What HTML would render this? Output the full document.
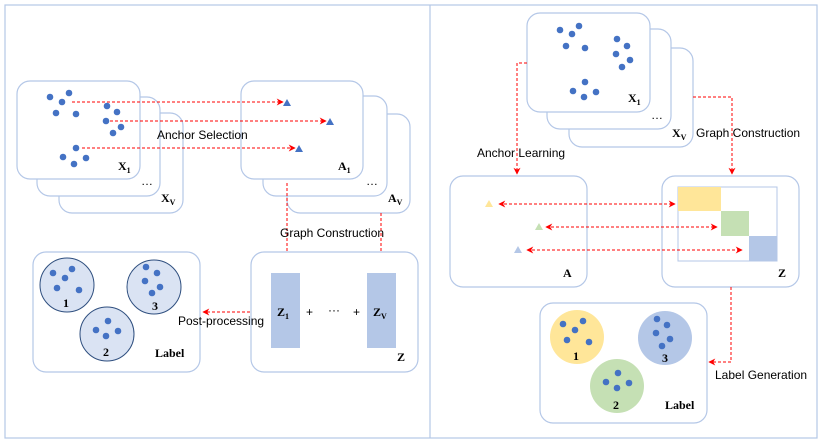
<!DOCTYPE html>
<html><head><meta charset="utf-8"><style>
html,body{margin:0;padding:0;background:#fff;}
svg{display:block;}
.b{fill:#fff;stroke:#b4c7e7;stroke-width:1.2;}
.d{fill:#4472c4;}
.r{stroke:#ff0000;stroke-width:1;stroke-dasharray:3,2;fill:none;}
.t{font-family:"Liberation Sans",sans-serif;font-size:12px;fill:#000;}
.s{font-family:"Liberation Serif",serif;font-weight:bold;font-size:12px;fill:#000;}
.sub{font-size:8px;}
</style></head><body>
<svg width="822" height="444" viewBox="0 0 822 444" xmlns="http://www.w3.org/2000/svg">
<defs>
<marker id="a" viewBox="0 0 10 10" refX="9" refY="5" markerWidth="7" markerHeight="7" orient="auto-start-reverse"><path d="M0,0 L10,5 L0,10 L3,5 z" fill="#ff0000"/></marker>
</defs>
<rect x="5" y="5" width="812" height="433" fill="none" stroke="#b4c7e7" stroke-width="1.2"/>
<line x1="430" y1="5" x2="430" y2="438" stroke="#b4c7e7" stroke-width="1.2"/>

<rect class="b" x="59" y="113" width="124" height="100" rx="13"/>
<rect class="b" x="37" y="97" width="123" height="99" rx="13"/>
<rect class="b" x="17" y="81" width="123" height="98" rx="13"/>
<g class="d">
<circle cx="50" cy="97" r="3.3"/><circle cx="69" cy="93" r="3.3"/><circle cx="62" cy="102" r="3.3"/><circle cx="56" cy="113" r="3.3"/><circle cx="76" cy="114" r="3.3"/>
<circle cx="107" cy="106" r="3.3"/><circle cx="117" cy="112" r="3.3"/><circle cx="106" cy="121" r="3.3"/><circle cx="121" cy="127" r="3.3"/><circle cx="113" cy="133" r="3.3"/>
<circle cx="76" cy="148" r="3.3"/><circle cx="63" cy="157" r="3.3"/><circle cx="74" cy="164" r="3.3"/><circle cx="86" cy="158" r="3.3"/>
</g>
<text class="s" x="118" y="170">X<tspan class="sub" dy="3">1</tspan></text>
<text class="t" x="141" y="185" font-size="8">…</text>
<text class="s" x="161" y="202">X<tspan class="sub" dy="3">V</tspan></text>

<rect class="b" x="287" y="114" width="123" height="99" rx="13"/>
<rect class="b" x="263" y="96" width="124" height="100" rx="13"/>
<rect class="b" x="241" y="81" width="122" height="98" rx="13"/>
<g fill="#4472c4"><path d="M283,106 L287,99 L291,106 z"/><path d="M326,125 L330,118 L334,125 z"/><path d="M295,152 L299,145 L303,152 z"/></g>
<text class="s" x="338" y="170">A<tspan class="sub" dy="3">1</tspan></text>
<text class="t" x="366" y="185" font-size="8">…</text>
<text class="s" x="388" y="202">A<tspan class="sub" dy="3">V</tspan></text>

<line class="r" x1="72" y1="102" x2="283" y2="102" marker-end="url(#a)"/>
<line class="r" x1="110" y1="121" x2="326" y2="121" marker-end="url(#a)"/>
<line class="r" x1="82" y1="148" x2="295" y2="148" marker-end="url(#a)"/>
<text class="t" x="157" y="139">Anchor Selection</text>

<line class="r" x1="287" y1="183" x2="287" y2="271" marker-end="url(#a)"/>
<line class="r" x1="381" y1="213" x2="381" y2="271" marker-end="url(#a)"/>
<text class="t" x="280" y="237">Graph Construction</text>

<rect class="b" x="251" y="252" width="167" height="120" rx="13"/>
<rect x="271" y="273" width="29" height="75" fill="#b4c7e7"/>
<rect x="367" y="273" width="29" height="75" fill="#b4c7e7"/>
<text class="s" x="277" y="316">Z<tspan class="sub" dy="3">1</tspan></text>
<text class="t" x="306" y="316">+</text>
<text class="t" x="328" y="314" font-size="8">···</text>
<text class="t" x="353" y="316">+</text>
<text class="s" x="373" y="316">Z<tspan class="sub" dy="3">V</tspan></text>
<text class="s" x="397" y="361">Z</text>

<rect class="b" x="33" y="252" width="167" height="120" rx="13"/>
<g fill="#dae3f3" stroke="#2f4f7f" stroke-width="1">
<circle cx="67" cy="285" r="27"/><circle cx="154" cy="287" r="27"/><circle cx="107" cy="334" r="27"/>
</g>
<g class="d">
<circle cx="53" cy="273" r="3.3"/><circle cx="72" cy="269" r="3.3"/><circle cx="65" cy="278" r="3.3"/><circle cx="57" cy="288" r="3.3"/><circle cx="79" cy="290" r="3.3"/>
<circle cx="146" cy="267" r="3.3"/><circle cx="157" cy="273" r="3.3"/><circle cx="145" cy="281" r="3.3"/><circle cx="160" cy="287" r="3.3"/><circle cx="152" cy="293" r="3.3"/>
<circle cx="108" cy="321" r="3.3"/><circle cx="96" cy="330" r="3.3"/><circle cx="118" cy="331" r="3.3"/><circle cx="106" cy="336" r="3.3"/>
</g>
<text class="s" x="63" y="307" font-size="11">1</text>
<text class="s" x="152" y="310" font-size="11">3</text>
<text class="s" x="103" y="356" font-size="11">2</text>
<text class="s" x="155" y="357" font-size="11">Label</text>
<line class="r" x1="250" y1="312" x2="203" y2="312" marker-end="url(#a)"/>
<text class="t" x="178" y="325">Post-processing</text>

<rect class="b" x="569" y="48" width="124" height="99" rx="13"/>
<rect class="b" x="547" y="29" width="124" height="100" rx="13"/>
<rect class="b" x="527" y="13" width="123" height="99" rx="13"/>
<g class="d">
<circle cx="560" cy="30" r="3.3"/><circle cx="579" cy="26" r="3.3"/><circle cx="572" cy="34" r="3.3"/><circle cx="566" cy="46" r="3.3"/><circle cx="585" cy="48" r="3.3"/>
<circle cx="617" cy="39" r="3.3"/><circle cx="627" cy="46" r="3.3"/><circle cx="616" cy="54" r="3.3"/><circle cx="630" cy="60" r="3.3"/><circle cx="622" cy="67" r="3.3"/>
<circle cx="585" cy="82" r="3.3"/><circle cx="573" cy="91" r="3.3"/><circle cx="584" cy="97" r="3.3"/><circle cx="596" cy="92" r="3.3"/>
</g>
<text class="s" x="628" y="102">X<tspan class="sub" dy="3">1</tspan></text>
<text class="t" x="651" y="119" font-size="8">…</text>
<text class="s" x="672" y="137">X<tspan class="sub" dy="3">V</tspan></text>

<polyline class="r" points="527,63 517,63 517,174" marker-end="url(#a)"/>
<text class="t" x="477" y="157">Anchor Learning</text>
<polyline class="r" points="693,97 732,97 732,174" marker-end="url(#a)"/>
<text class="t" x="696" y="137">Graph Construction</text>

<rect class="b" x="450" y="176" width="137" height="111" rx="13"/>
<path d="M485,207 L489,200 L493,207 z" fill="#ffe699"/>
<path d="M535,230 L539,223 L543,230 z" fill="#c5e0b4"/>
<path d="M514,253 L518,246 L522,253 z" fill="#b4c7e7"/>
<text class="s" x="563" y="277">A</text>

<rect class="b" x="662" y="176" width="137" height="111" rx="13"/>
<rect x="678" y="187" width="99" height="74" fill="#fff" stroke="#b4c7e7" stroke-width="1"/>
<rect x="678" y="187" width="43" height="24" fill="#ffe699"/>
<rect x="721" y="211" width="28" height="25" fill="#c5e0b4"/>
<rect x="749" y="236" width="28" height="25" fill="#b4c7e7"/>
<text class="s" x="778" y="277">Z</text>

<line class="r" x1="499" y1="204" x2="675" y2="204" marker-start="url(#a)" marker-end="url(#a)"/>
<line class="r" x1="546" y1="227" x2="717" y2="227" marker-start="url(#a)" marker-end="url(#a)"/>
<line class="r" x1="527" y1="250" x2="742" y2="250" marker-start="url(#a)" marker-end="url(#a)"/>

<rect class="b" x="540" y="303" width="167" height="120" rx="13"/>
<circle cx="577" cy="337" r="27" fill="#ffe699"/>
<circle cx="665" cy="338" r="27" fill="#b4c7e7"/>
<circle cx="617" cy="386" r="27" fill="#c5e0b4"/>
<g class="d">
<circle cx="563" cy="324" r="3.3"/><circle cx="583" cy="321" r="3.3"/><circle cx="575" cy="330" r="3.3"/><circle cx="567" cy="340" r="3.3"/><circle cx="589" cy="342" r="3.3"/>
<circle cx="657" cy="319" r="3.3"/><circle cx="667" cy="325" r="3.3"/><circle cx="656" cy="333" r="3.3"/><circle cx="670" cy="339" r="3.3"/><circle cx="662" cy="346" r="3.3"/>
<circle cx="618" cy="373" r="3.3"/><circle cx="606" cy="382" r="3.3"/><circle cx="629" cy="383" r="3.3"/><circle cx="617" cy="388" r="3.3"/>
</g>
<text class="s" x="573" y="360" font-size="11">1</text>
<text class="s" x="662" y="362" font-size="11">3</text>
<text class="s" x="613" y="409" font-size="11">2</text>
<text class="s" x="665" y="409" font-size="11">Label</text>
<polyline class="r" points="731,287 731,362 709,362" marker-end="url(#a)"/>
<text class="t" x="715" y="379">Label Generation</text>
</svg>
</body></html>
